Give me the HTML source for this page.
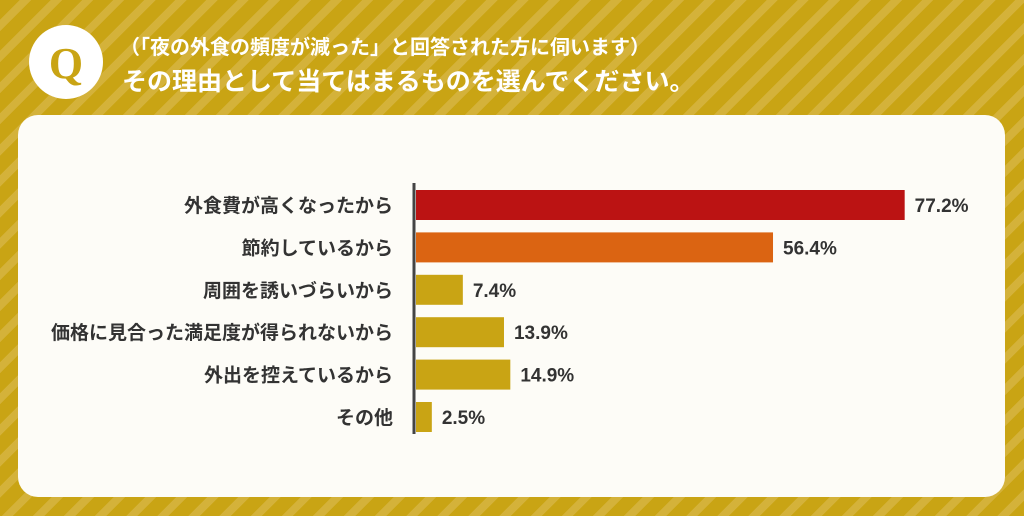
<!DOCTYPE html>
<html><head><meta charset="utf-8">
<style>
body{margin:0;width:1024px;height:516px;overflow:hidden;font-family:"Liberation Sans","Noto Sans CJK JP",sans-serif;}
#bg{position:absolute;left:0;top:0;width:1024px;height:516px;background:repeating-linear-gradient(135deg,#c9a414 0 14px,#d4b23a 14px 22px);}
#panel{position:absolute;left:18px;top:115px;width:987px;height:382px;background:#fdfcf7;border-radius:20px;}
.t{position:absolute;color:#fff;font-weight:bold;white-space:nowrap;}
</style></head><body>
<div id="bg"></div>
<svg style="position:absolute;left:0;top:0" width="140" height="120">
<circle cx="66" cy="62" r="37" fill="#fff"/>
<text x="66" y="78" text-anchor="middle" font-family="Liberation Serif,serif" font-weight="bold" font-size="44" fill="#c9a414">Q</text>
</svg>
<div class="t" style="left:120px;top:31px;font-size:20px">（「夜の外食の頻度が減った」と回答された方に伺います）</div>
<div class="t" style="left:122px;top:62px;font-size:25px">その理由として当てはまるものを選んでください。</div>
<div id="panel"></div>
<svg id="chart" style="position:absolute;left:0;top:0" width="1024" height="516"></svg>
<script>
const categories=["外食費が高くなったから","節約しているから","周囲を誘いづらいから","価格に見合った満足度が得られないから","外出を控えているから","その他"];
const values=[77.2,56.4,7.4,13.9,14.9,2.5];
const labels=["77.2%","56.4%","7.4%","13.9%","14.9%","2.5%"];
const colors=["#bb1313","#db6412","#c9a414","#c9a414","#c9a414","#c9a414"];
const svg=document.getElementById('chart');
const NS="http://www.w3.org/2000/svg";
const x0=416,pxPer=6.33,y0=190,pitch=42.4,bh=30;
const xs=v=>x0+v*pxPer;
const ys=i=>y0+i*pitch;
function mk(t,a){const e=document.createElementNS(NS,t);for(const k in a)e.setAttribute(k,a[k]);svg.appendChild(e);return e;}
categories.forEach((c,i)=>{
 const r=mk('rect',{x:x0,y:ys(i),width:xs(values[i])-x0,height:bh,fill:colors[i]});
 
 
 const l=mk('text',{x:393,y:ys(i)+bh/2+7,'text-anchor':'end','font-size':19,'font-weight':'bold',fill:'#333'});
 l.textContent=c;
 
 
 const v=mk('text',{x:xs(values[i])+10,y:ys(i)+bh/2+7,'font-size':19,'font-weight':'bold',fill:'#333'});
 v.textContent=labels[i];
 
 
});
const ax=mk('line',{x1:414,x2:414,y1:183,y2:ys(categories.length-1)+bh+2,stroke:'#444','stroke-width':3});


</script>
</body></html>
